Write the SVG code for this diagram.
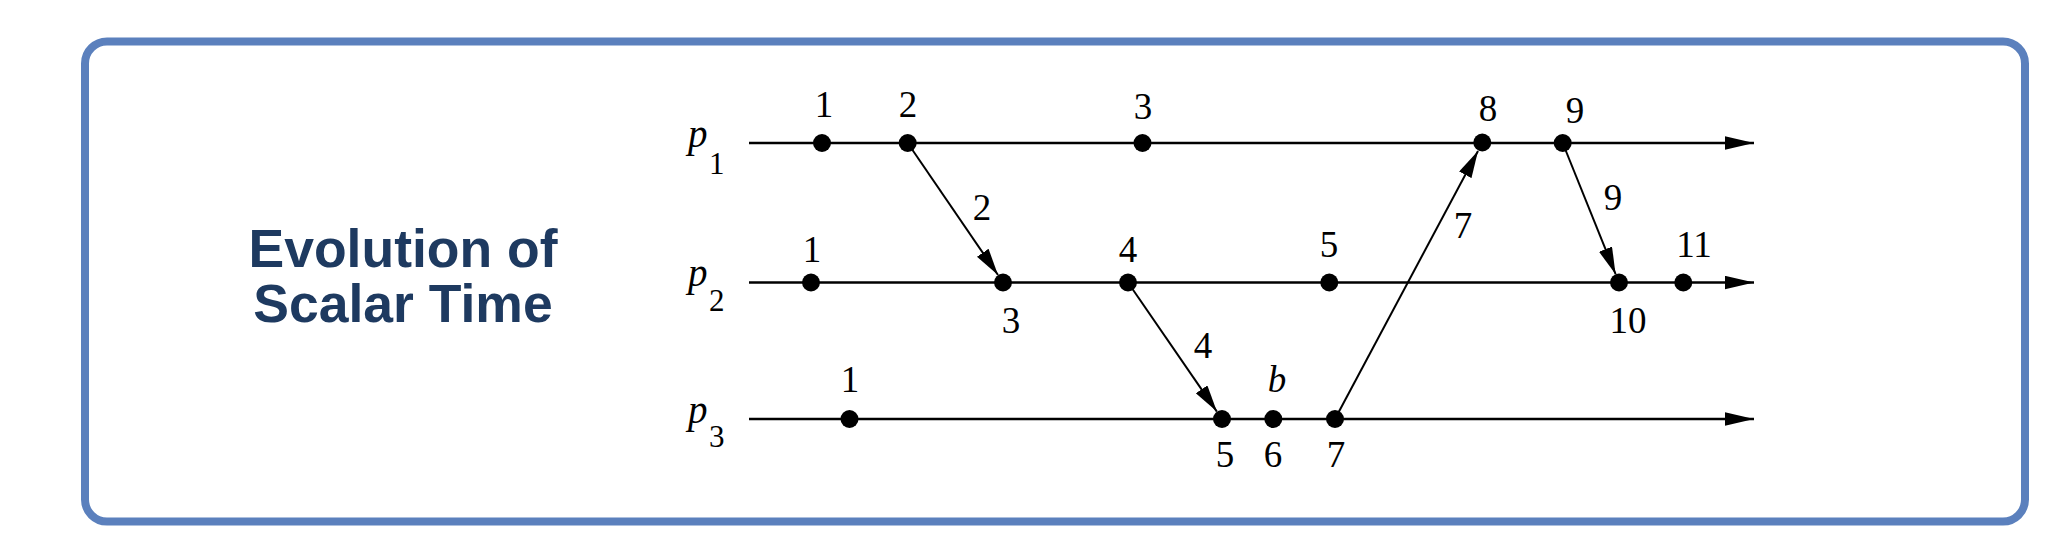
<svg xmlns="http://www.w3.org/2000/svg" width="2062" height="556" viewBox="0 0 2062 556">
<style>
.frame{fill:#ffffff;stroke:#5b80bd;stroke-width:8}
.title{font-family:"Liberation Sans",Arial,sans-serif;font-weight:bold;font-size:53.5px;fill:#1e3a60;text-anchor:middle}
.tl{stroke:#000;stroke-width:2.4;fill:none}
.msg{stroke:#000;stroke-width:2;fill:none}
.dot{fill:#000}
.lbl{font-family:"Liberation Serif","Times New Roman",serif;font-size:37px;fill:#000;text-anchor:middle}
.pl{font-family:"Liberation Serif","Times New Roman",serif;font-style:italic;font-size:39px;fill:#000}
.sub{font-family:"Liberation Serif","Times New Roman",serif;font-size:31px;fill:#000}
.it{font-style:italic}
</style>
<defs>
<marker id="tlArrow" markerUnits="userSpaceOnUse" markerWidth="30" markerHeight="14" refX="29" refY="6.7" orient="auto">
<path d="M0,0 L29,6.7 L0,13.4 z" fill="#000"/>
</marker>
<marker id="msgArrow" markerUnits="userSpaceOnUse" markerWidth="28" markerHeight="15" refX="27" refY="7" orient="auto">
<path d="M0,0 L27,7 L0,14 z" fill="#000"/>
</marker>
</defs>
<rect width="2062" height="556" fill="#ffffff"/>
<rect class="frame" x="85" y="41.5" width="1940" height="480" rx="22" ry="22"/>
<g id="title">
<text class="title" x="403" y="266.5">Evolution of</text>
<text class="title" x="403" y="321.5">Scalar Time</text>
</g>
<g id="process-labels">
<text class="pl" x="688" y="147">p</text><text class="sub" x="709" y="173.5">1</text>
<text class="pl" x="688" y="285.5">p</text><text class="sub" x="709" y="310.5">2</text>
<text class="pl" x="688" y="422.5">p</text><text class="sub" x="709" y="447">3</text>
</g>
<g id="connectors">
<line class="tl" x1="749" y1="143" x2="1754" y2="143" marker-end="url(#tlArrow)"/>
<line class="tl" x1="749" y1="282.5" x2="1754" y2="282.5" marker-end="url(#tlArrow)"/>
<line class="tl" x1="749" y1="419" x2="1754" y2="419" marker-end="url(#tlArrow)"/>
<line class="msg" x1="907.7" y1="143" x2="998" y2="275" marker-end="url(#msgArrow)"/>
<line class="msg" x1="1128" y1="282.5" x2="1216.9" y2="411.6" marker-end="url(#msgArrow)"/>
<line class="msg" x1="1335" y1="419" x2="1478" y2="151" marker-end="url(#msgArrow)"/>
<line class="msg" x1="1562.7" y1="143" x2="1615.6" y2="274.2" marker-end="url(#msgArrow)"/>
</g>
<g id="p1-events">
<circle class="dot" cx="822" cy="143" r="9"/>
<circle class="dot" cx="907.7" cy="143" r="9"/>
<circle class="dot" cx="1142.5" cy="143" r="9"/>
<circle class="dot" cx="1482.3" cy="142.5" r="9"/>
<circle class="dot" cx="1562.7" cy="143" r="9"/>
<text class="lbl" x="824" y="117">1</text>
<text class="lbl" x="908" y="117">2</text>
<text class="lbl" x="1143" y="119">3</text>
<text class="lbl" x="1488" y="121">8</text>
<text class="lbl" x="1575" y="123">9</text>
</g>
<g id="p2-events">
<circle class="dot" cx="811" cy="282.5" r="9"/>
<circle class="dot" cx="1003" cy="282.5" r="9"/>
<circle class="dot" cx="1128" cy="282.5" r="9"/>
<circle class="dot" cx="1329.3" cy="282.5" r="9"/>
<circle class="dot" cx="1619" cy="282.5" r="9"/>
<circle class="dot" cx="1683.3" cy="282.5" r="9"/>
<text class="lbl" x="812" y="262">1</text>
<text class="lbl" x="1128" y="262">4</text>
<text class="lbl" x="1329" y="257">5</text>
<text class="lbl" x="1694" y="257">11</text>
<text class="lbl" x="1011" y="333">3</text>
<text class="lbl" x="1628" y="333">10</text>
</g>
<g id="p3-events">
<circle class="dot" cx="849.5" cy="419" r="9"/>
<circle class="dot" cx="1222" cy="419" r="9"/>
<circle class="dot" cx="1273.3" cy="419" r="9"/>
<circle class="dot" cx="1335" cy="419" r="9"/>
<text class="lbl" x="850" y="392">1</text>
<text class="lbl it" x="1277" y="392">b</text>
<text class="lbl" x="1225" y="467">5</text>
<text class="lbl" x="1273" y="467">6</text>
<text class="lbl" x="1336" y="467">7</text>
</g>
<g id="message-labels">
<text class="lbl" x="982" y="220">2</text>
<text class="lbl" x="1203" y="358">4</text>
<text class="lbl" x="1463" y="238">7</text>
<text class="lbl" x="1613" y="210">9</text>
</g>
</svg>
